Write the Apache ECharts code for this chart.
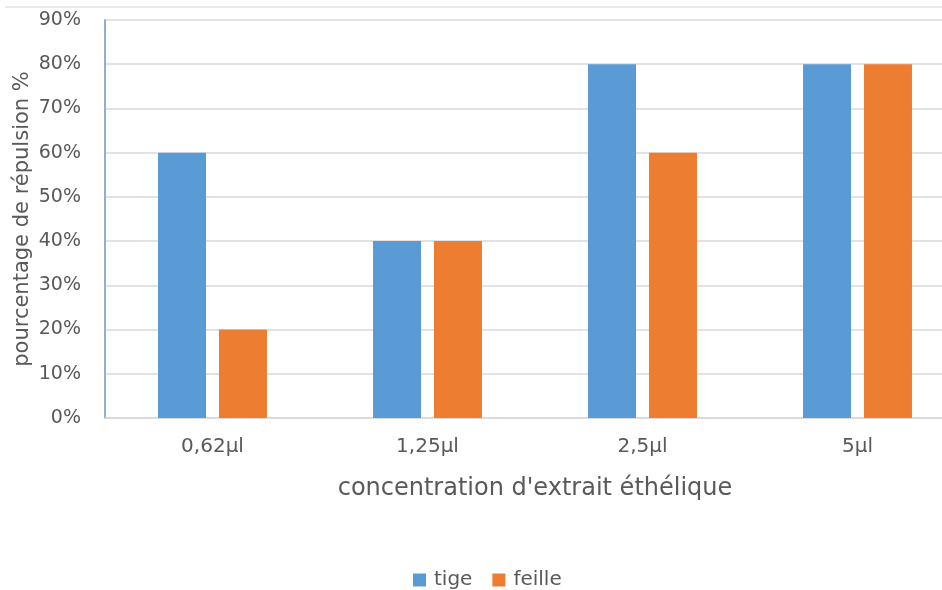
<!DOCTYPE html>
<html><head><meta charset="utf-8">
<script src="https://cdn.jsdelivr.net/npm/echarts@6/dist/echarts.min.js"></script>
<style>html,body{margin:0;padding:0;background:#fff}#c{width:942px;height:590px}</style>
</head><body><div id="c"></div>
<script>
const categories = ['0,62µl', '1,25µl', '2,5µl', '5µl'];
const tige = [60, 40, 80, 80];
const feille = [20, 40, 60, 80];
const yTicks = [0, 10, 20, 30, 40, 50, 60, 70, 80, 90];

const chart = echarts.init(document.getElementById('c'));
const font = '"DejaVu Sans", sans-serif';
chart.setOption({
  animation: false,
  textStyle: { fontFamily: font },
  graphic: [{ type: 'line', shape: { x1: 5, y1: 7, x2: 942, y2: 7 }, style: { stroke: '#e3e3e3', lineWidth: 1.5 } }],
  grid: { left: 105, top: 20, width: 860, height: 398, containLabel: false, outerBoundsMode: 'none' },
  legend: {
    data: ['tige', 'feille'], top: 565, left: 408,
    itemWidth: 13, itemHeight: 13, itemGap: 20, icon: 'rect',
    textStyle: { fontSize: 20, color: '#595959', fontFamily: font, padding: [0, 0, 0, 3] }
  },
  xAxis: {
    type: 'category', data: categories,
    axisLine: { lineStyle: { color: '#d9d9d9', width: 1.5 } },
    axisTick: { show: false },
    axisLabel: { fontSize: 20, color: '#595959', margin: 19 },
    name: "concentration d'extrait éthélique", nameLocation: 'middle', nameGap: 59,
    nameTextStyle: { fontSize: 24, color: '#595959' }
  },
  yAxis: {
    type: 'value', min: 0, max: 90, interval: 10,
    axisLine: { show: true, lineStyle: { color: '#8fb0cc', width: 2 } },
    axisTick: { show: false },
    splitLine: { lineStyle: { color: '#d9d9d9', width: 1.5 } },
    axisLabel: { fontSize: 19, color: '#595959', margin: 24, formatter: v => yTicks.includes(v) ? v + '%' : '' },
    name: 'pourcentage de répulsion %', nameLocation: 'middle', nameGap: 72, nameRotate: 90,
    nameMoveOverlap: false,
    nameTextStyle: { fontSize: 21, color: '#595959' }
  },
  series: [
    { name: 'tige', type: 'bar', data: tige, barWidth: 48, barGap: '27%', itemStyle: { color: '#5b9bd5' } },
    { name: 'feille', type: 'bar', data: feille, barWidth: 48, itemStyle: { color: '#ed7d31' } }
  ]
});
</script></body></html>
